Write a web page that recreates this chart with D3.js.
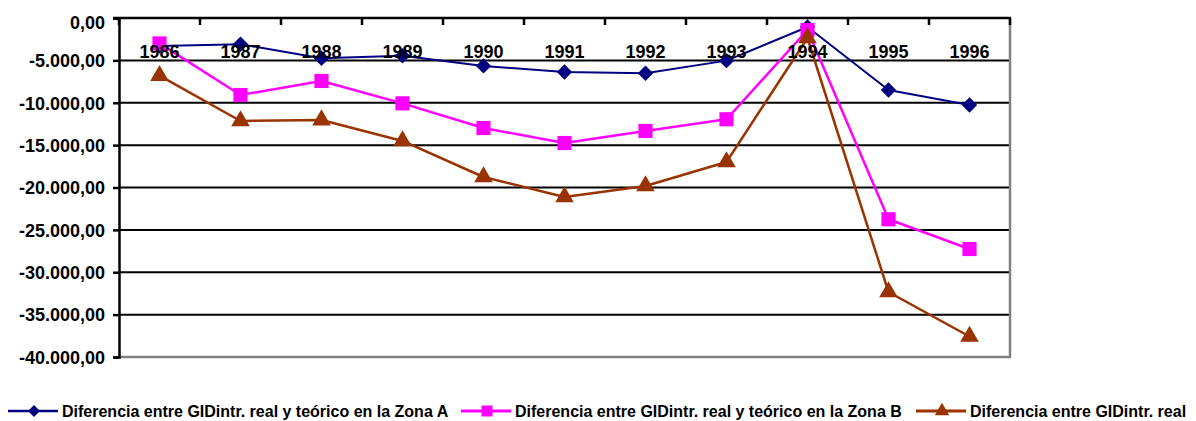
<!DOCTYPE html>
<html><head><meta charset="utf-8">
<script src="https://cdn.jsdelivr.net/npm/d3@7"></script>
<style>html,body{margin:0;padding:0;background:#fff;}svg{display:block;}</style>
</head><body>
<script>
const years = ["1986","1987","1988","1989","1990","1991","1992","1993","1994","1995","1996"];
const zonaA = [-3300,-3100,-4750,-4450,-5650,-6370,-6520,-5030,-1060,-8500,-10270];
const zonaB = [-3000,-9090,-7430,-10070,-12980,-14750,-13330,-11950,-1420,-23750,-27260];
const zonaC = [-6800,-12150,-12040,-14510,-18760,-21120,-19820,-16990,-2360,-32330,-37580];
const yTicks = [0,-5000,-10000,-15000,-20000,-25000,-30000,-35000,-40000];
const seriesNames = [
  "Diferencia entre GIDintr. real y teórico en la Zona A",
  "Diferencia entre GIDintr. real y teórico en la Zona B",
  "Diferencia entre GIDintr. real"
];

const W = 1196, H = 421;
const L = 119, R = 1010, T = 18, B = 357;
const FONT = "'Liberation Sans', Arial, sans-serif";

const svg = d3.select("body").append("svg").attr("width", W).attr("height", H);

const x = d3.scaleBand().domain(years).range([L, R]).padding(0);
const y = d3.scaleLinear().domain([-40000, 0]).range([B, T]);

// gridlines
svg.append("g").selectAll("line").data(yTicks.filter(d => d !== 0 && d !== -40000)).join("line")
  .attr("x1", L).attr("x2", R).attr("y1", d => y(d)).attr("y2", d => y(d))
  .attr("stroke", "#000").attr("stroke-width", 2);

// plot border (gray right/bottom)
svg.append("line").attr("x1", R).attr("x2", R).attr("y1", T).attr("y2", B).attr("stroke", "#808080").attr("stroke-width", 2.5);
svg.append("line").attr("x1", L).attr("x2", R + 1).attr("y1", B).attr("y2", B).attr("stroke", "#808080").attr("stroke-width", 2.5);

// y axis
const fmt = v => {
  const s = Math.abs(v).toFixed(2).split(".");
  const intp = s[0].replace(/\B(?=(\d{3})+(?!\d))/g, ".");
  return (v < 0 ? "-" : "") + intp + "," + s[1];
};
const yAxis = svg.append("g").attr("transform", `translate(${L},0)`)
  .call(d3.axisLeft(y).tickValues(yTicks).tickFormat(fmt).tickSize(6).tickPadding(8));
yAxis.select(".domain").attr("stroke", "#000").attr("stroke-width", 2.5);
yAxis.selectAll(".tick line").attr("stroke", "#000").attr("stroke-width", 2.5);
yAxis.selectAll(".tick text").attr("font-family", FONT).attr("font-weight", "bold")
  .attr("font-size", "18px").attr("fill", "#000")
  .attr("dy", d => d === 0 ? "0.6em" : "0.35em");

// x axis at top (value 0), ticks downward at category boundaries
const xAxisG = svg.append("g");
xAxisG.append("line").attr("x1", L - 6).attr("x2", R + 1).attr("y1", y(0)).attr("y2", y(0))
  .attr("stroke", "#000").attr("stroke-width", 2.5);
const bounds = years.map(d => x(d)).concat([x(years[years.length - 1]) + x.bandwidth()]);
xAxisG.selectAll("line.tk").data(bounds).join("line").attr("class", "tk")
  .attr("x1", d => d).attr("x2", d => d).attr("y1", y(0)).attr("y2", y(0) + 7)
  .attr("stroke", "#000").attr("stroke-width", 2.5);

// series
const series = [
  {vals: zonaA, color: "#000080", sw: 2, marker: "diamond", size: 118},
  {vals: zonaB, color: "#FF00FF", sw: 2.5, marker: "square", size: 200},
  {vals: zonaC, color: "#993300", sw: 2.5, marker: "triangle", size: 150}
];
const symMap = {diamond: d3.symbolSquare, square: d3.symbolSquare, triangle: d3.symbolTriangle};
const rot = m => m === "diamond" ? " rotate(45)" : "";
const line = d3.line().x((d, i) => x(years[i]) + x.bandwidth() / 2).y(d => y(d));

series.forEach(s => {
  svg.append("path").datum(s.vals).attr("d", line).attr("fill", "none")
    .attr("stroke", s.color).attr("stroke-width", s.sw).attr("stroke-linejoin", "round");
});
series.forEach(s => {
  svg.append("g").selectAll("path").data(s.vals).join("path")
    .attr("transform", (d, i) => `translate(${x(years[i]) + x.bandwidth() / 2},${y(d)})` + rot(s.marker))
    .attr("d", d3.symbol().type(symMap[s.marker]).size(s.size))
    .attr("fill", s.color);
});

// category labels (drawn on top)
svg.append("g").selectAll("text").data(years).join("text")
  .attr("x", d => x(d) + x.bandwidth() / 2).attr("y", 58)
  .attr("text-anchor", "middle").attr("font-family", FONT).attr("font-weight", "bold")
  .attr("font-size", "18px").attr("fill", "#000").text(d => d);

// legend
const legX = [8, 461, 916];
const legY = 411;
series.forEach((s, i) => {
  const g = svg.append("g");
  g.append("line").attr("x1", legX[i]).attr("x2", legX[i] + 50).attr("y1", legY).attr("y2", legY)
    .attr("stroke", s.color).attr("stroke-width", s.sw + 0.5);
  g.append("path").attr("transform", `translate(${legX[i] + 26},${legY})` + rot(s.marker))
    .attr("d", d3.symbol().type(symMap[s.marker]).size(s.size * 0.6)).attr("fill", s.color);
  g.append("text").attr("x", legX[i] + 54).attr("y", legY + 5.5)
    .attr("font-family", FONT).attr("font-weight", "bold").attr("font-size", "16px")
    .attr("fill", "#000").text(seriesNames[i]);
});
</script>
</body></html>
